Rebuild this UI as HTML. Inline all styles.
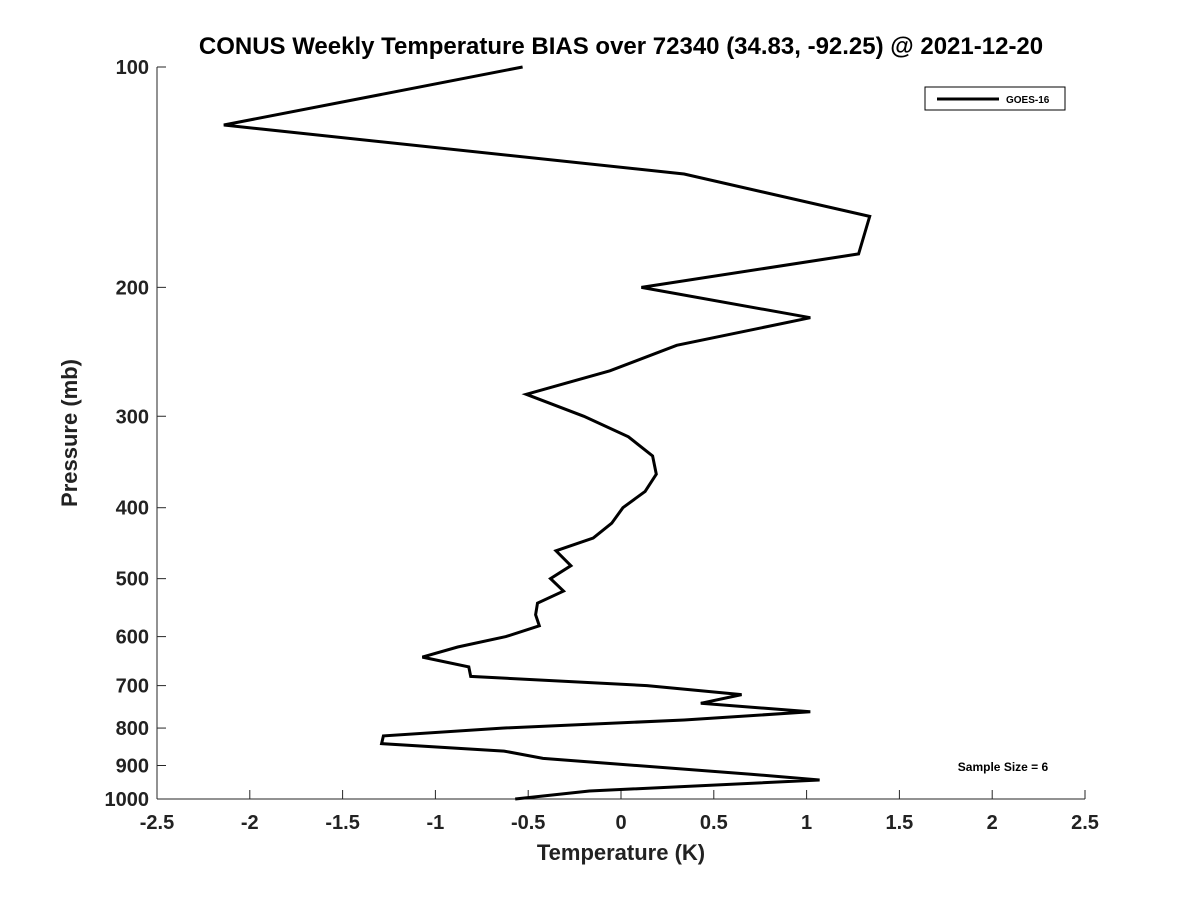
<!DOCTYPE html>
<html><head><meta charset="utf-8"><style>
body{margin:0;background:#fff;}
svg text{font-family:"Liberation Sans","DejaVu Sans",sans-serif;font-weight:bold;fill:#222;}
</style></head><body>
<svg id="chart" width="1200" height="900" xmlns="http://www.w3.org/2000/svg">
<rect width="1200" height="900" fill="#fff"/>
<text x="621" y="54" text-anchor="middle" font-size="24" style="fill:#000">CONUS Weekly Temperature BIAS over 72340 (34.83, -92.25) @ 2021-12-20</text>
<g id="axes"></g>
<polyline id="series" fill="none" stroke="#000" stroke-width="3" stroke-linejoin="miter"/>
<g>
<rect x="925" y="87" width="140" height="23" fill="#fff" stroke="#000" stroke-width="1"/>
<line x1="937" y1="99" x2="999" y2="99" stroke="#000" stroke-width="3"/>
<text x="1006" y="103" font-size="10" style="fill:#000">GOES-16</text>
</g>
<text x="1003" y="771" text-anchor="middle" font-size="12" style="fill:#000">Sample Size = 6</text>
<text x="621" y="860" text-anchor="middle" font-size="22">Temperature (K)</text>
<text transform="translate(77,433) rotate(-90)" text-anchor="middle" font-size="22">Pressure (mb)</text>
</svg>
<script>
const xTicks = [-2.5,-2,-1.5,-1,-0.5,0,0.5,1,1.5,2,2.5];
const xTickLabels = ["-2.5","-2","-1.5","-1","-0.5","0","0.5","1","1.5","2","2.5"];
const yTicks = [100,200,300,400,500,600,700,800,900,1000];
const pressure = [100,120,140,160,180,200,220,240,260,280,300,320,340,360,380,400,420,440,458,480,500,520,540,560,580,600,620,640,660,680,700,720,740,760,780,800,820,840,860,880,925,942,975,1000];
const bias = [-0.53,-2.14,0.34,1.34,1.28,0.11,1.02,0.30,-0.06,-0.51,-0.20,0.04,0.17,0.19,0.13,0.01,-0.05,-0.15,-0.35,-0.27,-0.38,-0.31,-0.45,-0.46,-0.44,-0.62,-0.88,-1.07,-0.82,-0.81,0.14,0.65,0.43,1.02,0.34,-0.64,-1.28,-1.29,-0.63,-0.42,0.70,1.07,-0.17,-0.57];

const X0=157,X1=1085,Y0=67,Y1=799;
const xs=v=>X0+(v+2.5)/5*(X1-X0);
const ys=p=>Y0+(Math.log10(p)-2)*(Y1-Y0);
const NS="http://www.w3.org/2000/svg";
const ax=document.getElementById('axes');
function mk(tag,attrs){const e=document.createElementNS(NS,tag);for(const k in attrs)e.setAttribute(k,attrs[k]);return e;}
const xl=mk('line',{x1:X0,y1:Y1,x2:X1,y2:Y1,stroke:'#262626','stroke-width':1});


ax.appendChild(xl);
const yl=mk('line',{x1:X0,y1:Y0,x2:X0,y2:Y1,stroke:'#262626','stroke-width':1});


ax.appendChild(yl);
xTicks.forEach((v,i)=>{
  const x=xs(v);
  const t=mk('line',{x1:x,y1:Y1,x2:x,y2:Y1-9,stroke:'#262626','stroke-width':1});
  
  
  ax.appendChild(t);
  const l=mk('text',{x:x,y:Y1+30,'text-anchor':'middle','font-size':20});
  l.textContent=xTickLabels[i];
  
  
  ax.appendChild(l);
});
yTicks.forEach(p=>{
  const y=ys(p);
  const t=mk('line',{x1:X0,y1:y,x2:X0+9,y2:y,stroke:'#262626','stroke-width':1});
  
  
  ax.appendChild(t);
  const l=mk('text',{x:X0-8,y:y+7,'text-anchor':'end','font-size':20});
  l.textContent=String(p);
  
  
  ax.appendChild(l);
});
document.getElementById('series').setAttribute('points',pressure.map((p,i)=>xs(bias[i]).toFixed(1)+','+ys(p).toFixed(1)).join(' '));
</script>
</body></html>
